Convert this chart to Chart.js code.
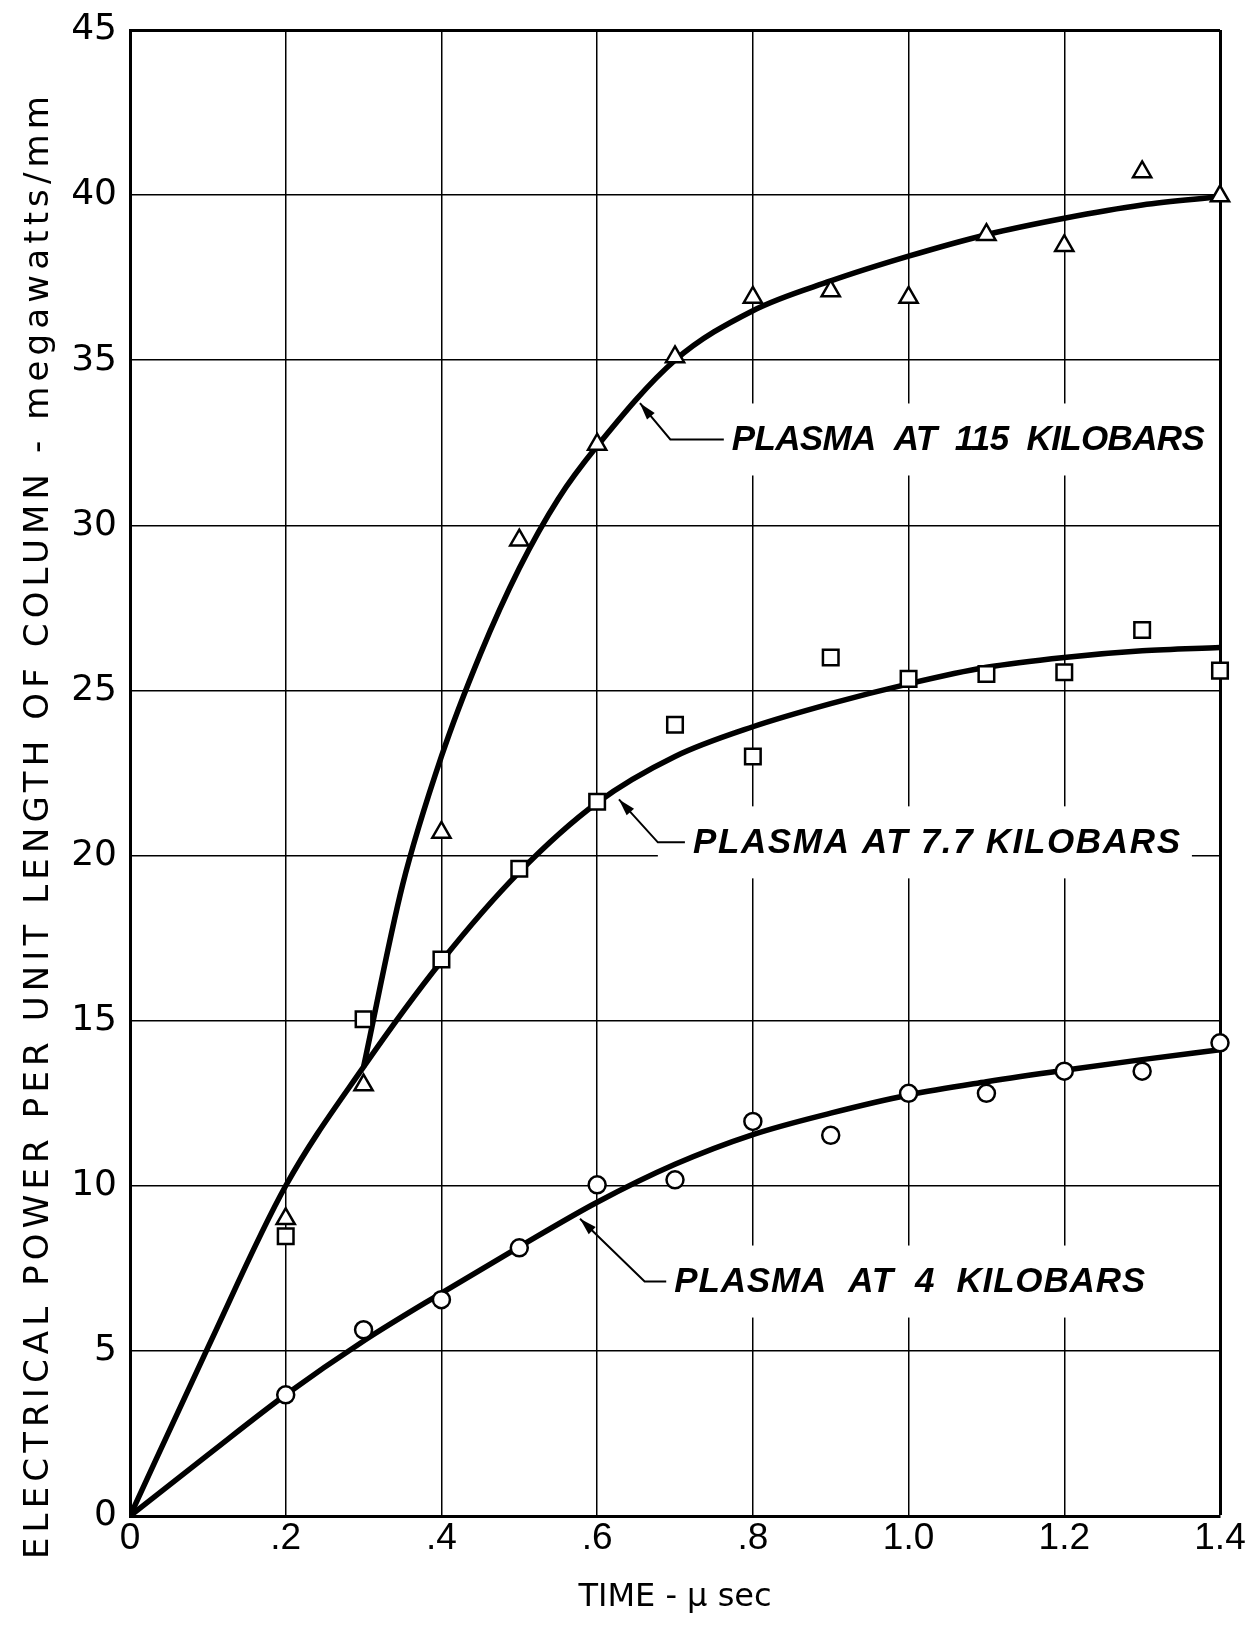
<!DOCTYPE html>
<html>
<head>
<meta charset="utf-8">
<title>Electrical power per unit length of column</title>
<script src="https://cdn.jsdelivr.net/npm/chart.js@4.4.1/dist/chart.umd.min.js"></script>
<style>
  html, body { margin: 0; padding: 0; background: #fff; }
  canvas { display: block; }
</style>
</head>
<body>
<canvas id="powerChart" width="1246" height="1627"></canvas>
<script>
// Measured points (time in microseconds, power in megawatts/mm)
const timePoints = [0.2, 0.3, 0.4, 0.5, 0.6, 0.7, 0.8, 0.9, 1.0, 1.1, 1.2, 1.3, 1.4];
const points115 = [9.0, 13.05, 20.7, 29.55, 32.45, 35.1, 36.9, 37.1, 36.9, 38.8, 38.47, 40.7, 39.97];
const points77 = [8.47, 15.04, 16.85, 19.6, 21.63, 23.96, 23.0, 26.0, 25.35, 25.5, 25.55, 26.83, 25.6];
const points4 = [3.67, 5.64, 6.55, 8.12, 10.03, 10.18, 11.95, 11.53, 12.8, 12.8, 13.47, 13.47, 14.33];

// Faired curves
const timeFit = [0, 0.1, 0.2, 0.3, 0.4, 0.5, 0.6, 0.7, 0.8, 0.9, 1.0, 1.1, 1.2, 1.3, 1.4];
const fit77 = [0, 5.1, 10.0, 13.6, 16.8, 19.5, 21.6, 23.0, 23.9, 24.6, 25.2, 25.7, 26.0, 26.2, 26.3];
const fit4 = [0, 1.85, 3.67, 5.3, 6.75, 8.15, 9.5, 10.65, 11.55, 12.2, 12.75, 13.15, 13.5, 13.82, 14.12];
// the 115 kilobar curve leaves the shared branch at 0.3
const timeFit115 = [0.3, 0.35, 0.4, 0.45, 0.5, 0.55, 0.6, 0.7, 0.8, 0.9, 1.0, 1.1, 1.2, 1.3, 1.4];
const fit115 = [13.6, 19.1, 23.0, 26.1, 28.7, 30.8, 32.4, 35.0, 36.5, 37.4, 38.15, 38.8, 39.3, 39.7, 39.95];

// Axis ticks
const timeTicks = [0, 0.2, 0.4, 0.6, 0.8, 1.0, 1.2, 1.4];
const timeTickLabels = ['0', '.2', '.4', '.6', '.8', '1.0', '1.2', '1.4'];
const powerTicks = [0, 5, 10, 15, 20, 25, 30, 35, 40, 45];

const yTitle = 'ELECTRICAL POWER PER UNIT LENGTH OF COLUMN - megawatts/mm';
const xTitle = 'TIME - \u03bc sec';

function pairs(xs, ys) {
  return xs.map((v, i) => ({ x: v, y: ys[i] }));
}

function fitText(ctx, text, width) {
  // spread the letters so the text fills the given width
  if ('letterSpacing' in ctx) {
    ctx.letterSpacing = '0px';
    const w = ctx.measureText(text).width;
    ctx.letterSpacing = ((width - w) / (text.length - 1)).toFixed(2) + 'px';
  }
}

// Labels with leader arrows, placed in data units
const calloutPlugin = {
  id: 'callouts',
  beforeDatasetsDraw(chart, args, opts) {
    const { ctx } = chart;
    const xs = chart.scales.x, ys = chart.scales.y;
    ctx.save();
    opts.items.forEach(item => {
      const tx = xs.getPixelForValue(item.tip[0]), ty = ys.getPixelForValue(item.tip[1]);
      const ex = xs.getPixelForValue(item.elbow[0]), ey = ys.getPixelForValue(item.elbow[1]);
      const sx = xs.getPixelForValue(item.textStart);

      // white patch hiding the grid behind the text
      ctx.fillStyle = '#fff';
      ctx.fillRect(ex, ey - opts.boxHalf, sx + item.width + 12 - ex, opts.boxHalf * 2);

      // leader line
      ctx.strokeStyle = '#000';
      ctx.lineWidth = 2;
      ctx.beginPath();
      ctx.moveTo(tx, ty);
      ctx.lineTo(ex, ey);
      ctx.lineTo(sx - 8, ey);
      ctx.stroke();

      // arrow head at the curve
      const a = Math.atan2(ty - ey, tx - ex);
      ctx.fillStyle = '#000';
      ctx.beginPath();
      ctx.moveTo(tx, ty);
      ctx.lineTo(tx - 17 * Math.cos(a) + 5 * Math.sin(a), ty - 17 * Math.sin(a) - 5 * Math.cos(a));
      ctx.lineTo(tx - 17 * Math.cos(a) - 5 * Math.sin(a), ty - 17 * Math.sin(a) + 5 * Math.cos(a));
      ctx.closePath();
      ctx.fill();

      ctx.font = opts.font;
      ctx.textAlign = 'left';
      ctx.textBaseline = 'middle';
      fitText(ctx, item.text, item.width);
      ctx.fillText(item.text, sx, ey + 1);
      if ('letterSpacing' in ctx) ctx.letterSpacing = '0px';
    });
    ctx.restore();
  },
  afterDraw(chart, args, opts) {
    const { ctx } = chart;
    ctx.save();
    ctx.translate(opts.yTitleX, opts.yTitleY);
    ctx.rotate(-Math.PI / 2);
    ctx.font = '34px "DejaVu Sans"';
    ctx.fillStyle = '#000';
    ctx.textAlign = 'center';
    ctx.textBaseline = 'middle';
    fitText(ctx, yTitle, opts.yTitleWidth);
    ctx.fillText(yTitle, 0, 0);
    ctx.restore();
  }
};

const ctx = document.getElementById('powerChart').getContext('2d');
const curveStyle = {
  type: 'line',
  borderColor: '#000',
  borderWidth: 5.5,
  pointRadius: 0,
  fill: false,
  cubicInterpolationMode: 'monotone',
  order: 2
};
const markStyle = {
  type: 'scatter',
  borderColor: '#000',
  backgroundColor: '#fff',
  borderWidth: 2.5,
  clip: false,
  order: 1
};

new Chart(ctx, {
  data: {
    datasets: [
      Object.assign({ label: '115 kilobars curve', data: pairs(timeFit115, fit115) }, curveStyle),
      Object.assign({ label: '7.7 kilobars curve', data: pairs(timeFit, fit77) }, curveStyle),
      Object.assign({ label: '4 kilobars curve', data: pairs(timeFit, fit4) }, curveStyle),
      Object.assign({ label: 'Plasma at 115 kilobars', data: pairs(timePoints, points115),
        pointStyle: 'triangle', pointRadius: 10.5 }, markStyle),
      Object.assign({ label: 'Plasma at 7.7 kilobars', data: pairs(timePoints, points77),
        pointStyle: 'rect', pointRadius: 11 }, markStyle),
      Object.assign({ label: 'Plasma at 4 kilobars', data: pairs(timePoints, points4),
        pointStyle: 'circle', pointRadius: 8.5 }, markStyle)
    ]
  },
  options: {
    responsive: false,
    animation: false,
    layout: { padding: { top: 30, right: 26, left: 0, bottom: 0 } },
    plugins: {
      legend: { display: false },
      tooltip: { enabled: false },
      callouts: {
        font: 'italic bold 35px "Liberation Sans"',
        boxHalf: 36,
        yTitleX: 39,
        yTitleY: 825,
        yTitleWidth: 1463,
        items: [
          { text: 'PLASMA  AT  115  KILOBARS', tip: [0.655, 33.7], elbow: [0.694, 32.6], textStart: 0.773, width: 473 },
          { text: 'PLASMA AT 7.7 KILOBARS', tip: [0.628, 21.7], elbow: [0.678, 20.4], textStart: 0.723, width: 487 },
          { text: 'PLASMA  AT  4  KILOBARS', tip: [0.578, 9.0], elbow: [0.661, 7.1], textStart: 0.699, width: 471 }
        ]
      }
    },
    scales: {
      x: {
        type: 'linear',
        min: 0,
        max: 1.4,
        afterBuildTicks: scale => { scale.ticks = timeTicks.map(v => ({ value: v })); },
        afterFit: scale => { scale.height = 111; scale.paddingLeft = 0; scale.paddingRight = 0; },
        ticks: {
          color: '#000',
          font: { family: 'Liberation Sans', size: 37 },
          padding: 1,
          maxRotation: 0,
          callback: (v, i) => timeTickLabels[i]
        },
        grid: {
          color: '#000',
          lineWidth: c => (c.index === timeTicks.length - 1 ? 3 : 1.5),
          drawTicks: false
        },
        border: { color: '#000', width: 3 },
        title: {
          display: true,
          text: xTitle,
          color: '#000',
          font: { family: 'DejaVu Sans', size: 32 },
          padding: { top: 0, bottom: 10 }
        }
      },
      y: {
        type: 'linear',
        min: 0,
        max: 45,
        afterBuildTicks: scale => { scale.ticks = powerTicks.map(v => ({ value: v })); },
        afterFit: scale => { scale.width = 130; scale.paddingTop = 0; scale.paddingBottom = 0; },
        ticks: {
          color: '#000',
          font: { family: 'DejaVu Sans', size: 36 },
          padding: 13
        },
        grid: {
          color: '#000',
          lineWidth: c => (c.index === powerTicks.length - 1 ? 3 : 1.5),
          drawTicks: false
        },
        border: { color: '#000', width: 3 }
      }
    }
  },
  plugins: [calloutPlugin]
});
</script>
</body>
</html>
